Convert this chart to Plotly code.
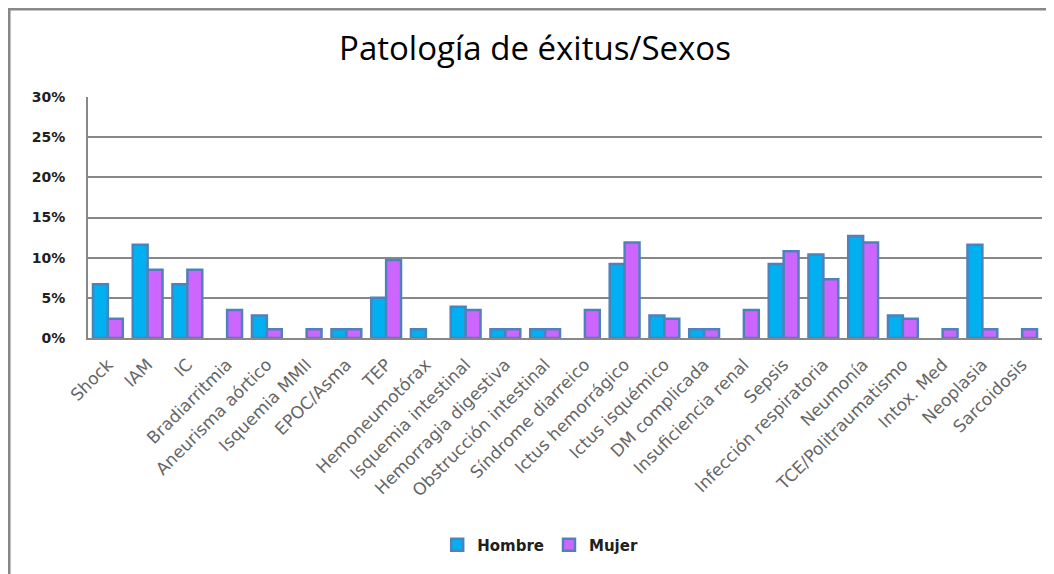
import plotly.graph_objects as go

# Data
categorias = ["Shock", "IAM", "IC", "Bradiarritmia", "Aneurisma aórtico", "Isquemia MMII",
              "EPOC/Asma", "TEP", "Hemoneumotórax", "Isquemia intestinal", "Hemorragia digestiva",
              "Obstrucción intestinal", "Síndrome diarreico", "Ictus hemorrágico", "Ictus isquémico",
              "DM complicada", "Insuficiencia renal", "Sepsis", "Infección respiratoria", "Neumonía",
              "TCE/Politraumatismo", "Intox. Med", "Neoplasia", "Sarcoidosis"]
hombre = [6.7, 11.6, 6.7, 0, 2.8, 0, 1.1, 5.0, 1.1, 3.9, 1.1, 1.1, 0, 9.2, 2.8,
          1.1, 0, 9.2, 10.4, 12.7, 2.8, 0, 11.6, 0]
mujer = [2.4, 8.5, 8.5, 3.5, 1.1, 1.1, 1.1, 9.7, 0, 3.5, 1.1, 1.1, 3.5, 11.9, 2.4,
         1.1, 3.5, 10.8, 7.3, 11.9, 2.4, 1.1, 1.1, 1.1]
y_ticks = [0, 5, 10, 15, 20, 25, 30]

# no outline on empty categories
def borde(vals):
    return [2.5 if v else 0 for v in vals]

fig = go.Figure()
fig.add_trace(go.Bar(x=categorias, y=hombre, name="Hombre",
                     marker=dict(color="#00B0F0", line=dict(color="#4F81BD", width=borde(hombre)))))
fig.add_trace(go.Bar(x=categorias, y=mujer, name="Mujer",
                     marker=dict(color="#CC66FF", line=dict(color="#4F81BD", width=borde(mujer)))))

fig.update_layout(
    width=1054, height=574,
    margin=dict(l=80, r=20, t=89, b=244),
    paper_bgcolor="white", plot_bgcolor="white",
    barmode="group", bargap=0.25, bargroupgap=0,
    font=dict(family="DejaVu Sans", color="#404040"),
    title=dict(text="Patología de éxitus/Sexos", x=0.5, xanchor="center",
               y=0.930, yanchor="middle",
               font=dict(size=33, color="#000000", family="Open Sans")),
    legend=dict(orientation="h", x=0.474, xanchor="center", y=-0.859, yanchor="middle",
                font=dict(size=15, color="#202020", family="DejaVu Sans", weight="bold")),
    showlegend=True,
)
fig.update_yaxes(range=[0, 30], tickvals=y_ticks, ticktext=[f"{v}%" for v in y_ticks],
                 showgrid=True, gridcolor="#888888", gridwidth=2,
                 showline=True, linecolor="#888888", linewidth=2,
                 tickfont=dict(size=14, color="#202020", family="DejaVu Sans", weight="bold"),
                 ticks="", ticklabelstandoff=18)
fig.update_xaxes(tickangle=-45, tickfont=dict(size=17, color="#666666", family="DejaVu Sans"),
                 showline=True, linecolor="#888888", linewidth=2, ticklabelstandoff=8)

# outer chart border (left and top edges visible)
fig.add_shape(type="rect", xref="paper", yref="paper",
              x0=-0.0828, x1=1.06, y0=-1.2, y1=1.365,
              line=dict(color="#888888", width=3), fillcolor="rgba(0,0,0,0)", layer="below")

fig.write_html("out.html")
